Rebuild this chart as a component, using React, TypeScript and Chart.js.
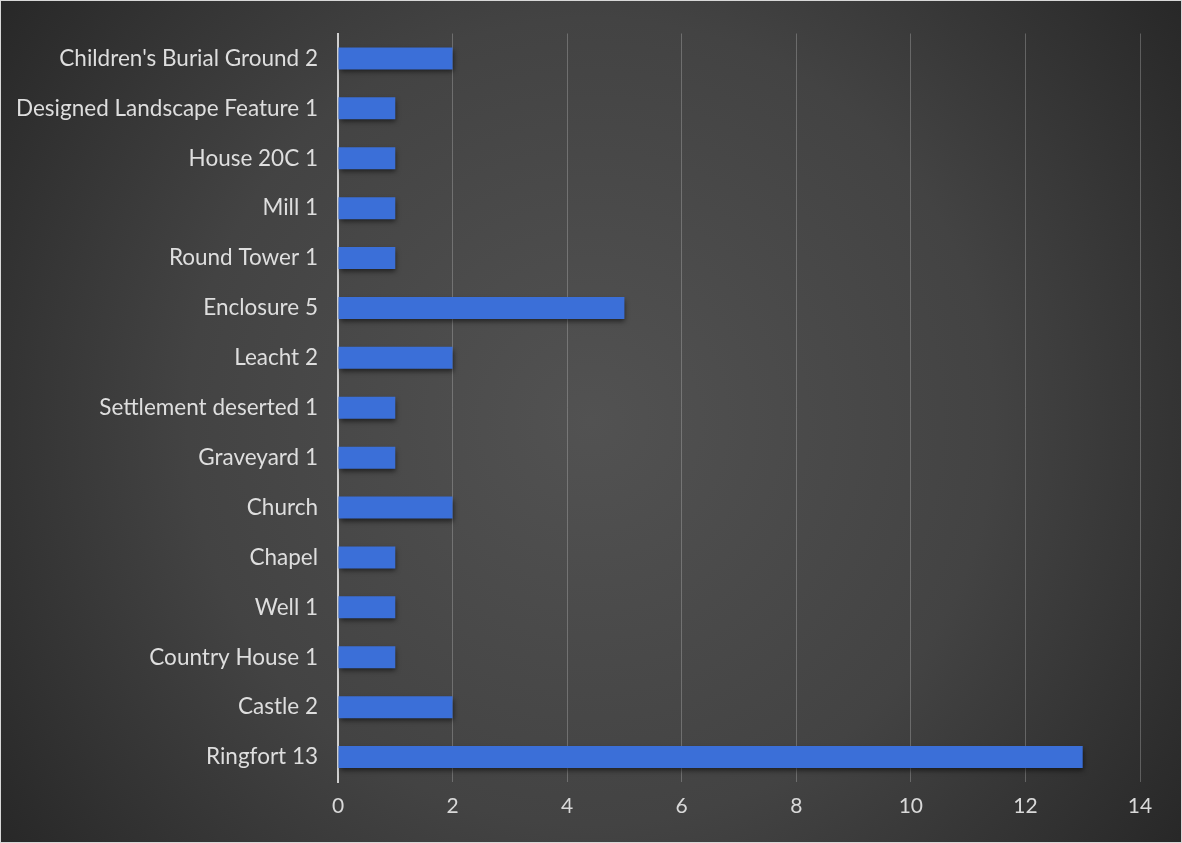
import React, { useEffect, useRef } from "react";
import { Chart, registerables } from "chart.js";

Chart.register(...registerables);

const categories = [
  "Children's Burial Ground 2",
  "Designed Landscape Feature 1",
  "House 20C 1",
  "Mill 1",
  "Round Tower 1",
  "Enclosure 5",
  "Leacht 2",
  "Settlement deserted 1",
  "Graveyard 1",
  "Church",
  "Chapel",
  "Well 1",
  "Country House 1",
  "Castle 2",
  "Ringfort 13",
];
const values = [2, 1, 1, 1, 1, 5, 2, 1, 1, 2, 1, 1, 1, 2, 13];
const xMin = 0;
const xMax = 14;
const xStep = 2;

const bgPlugin = {
  id: "bg",
  beforeDraw(chart: any) {
    const { ctx, width, height } = chart;
    ctx.save();
    const g = ctx.createRadialGradient(width / 2, height / 2, 0, width / 2, height / 2, Math.max(width, height) * 0.62);
    g.addColorStop(0, "#525252");
    g.addColorStop(0.55, "#434343");
    g.addColorStop(1, "#272727");
    ctx.fillStyle = g;
    ctx.fillRect(0, 0, width, height);
    ctx.strokeStyle = "#d8d8d8";
    ctx.lineWidth = 1;
    ctx.strokeRect(0.5, 0.5, width - 1, height - 1);
    ctx.restore();
  },
  beforeDatasetsDraw(chart: any) {
    const ctx = chart.ctx;
    ctx.save();
    ctx.shadowColor = "rgba(0,0,0,0.55)";
    ctx.shadowBlur = 5;
    ctx.shadowOffsetX = 1;
    ctx.shadowOffsetY = 3;
  },
  afterDatasetsDraw(chart: any) {
    chart.ctx.restore();
  },
};

export default function App() {
  const ref = useRef<HTMLCanvasElement | null>(null);
  useEffect(() => {
    document.body.style.margin = "0";
    const canvas = ref.current!;
    const chart = new Chart(canvas, {
      type: "bar",
      data: {
        labels: categories,
        datasets: [
          {
            data: values,
            backgroundColor: (c: any) => {
              const ch = c.chart;
              const el = c.element as any;
              if (!ch.chartArea || !el) return "#3b6fd8";
              const y = el.y;
              const h = el.height || 22;
              if (!isFinite(y)) return "#3b6fd8";
              const g = ch.ctx.createLinearGradient(0, y - h / 2, 0, y + h / 2);
              g.addColorStop(0, "#4b80e8");
              g.addColorStop(0.5, "#3d72dd");
              g.addColorStop(1, "#2c58bd");
              return g;
            },
            borderWidth: 0,
            barPercentage: 0.88,
            categoryPercentage: 0.5,
          },
        ],
      },
      options: {
        indexAxis: "y",
        animation: false,
        responsive: false,
        maintainAspectRatio: false,
        layout: { padding: { top: 31, right: 42, bottom: 10, left: 0 } },
        plugins: { legend: { display: false }, tooltip: { enabled: false } },
        scales: {
          x: {
            min: xMin,
            max: xMax,
            ticks: {
              stepSize: xStep,
              color: "#d9d9d9",
              font: { family: "Lato", size: 21 },
              padding: 12,
            },
            grid: { color: "rgba(210,210,210,0.3)", lineWidth: 1, drawTicks: false },
            border: { display: false },
            afterFit: (s: any) => {
              s.height = 51;
            },
          },
          y: {
            ticks: {
              color: "#dedede",
              font: { family: "Lato", size: 22.5 },
              padding: 20,
            },
            grid: { display: false, drawTicks: false },
            border: { display: true, color: "#cfcfcf", width: 2 },
            afterFit: (s: any) => {
              s.width = 338;
            },
          },
        },
      },
      plugins: [bgPlugin],
    } as any);
    return () => chart.destroy();
  }, []);
  return (
    <div style={{ width: 1182, height: 843 }}>
      <canvas ref={ref} width={1182} height={843} style={{ display: "block" }} />
    </div>
  );
}
